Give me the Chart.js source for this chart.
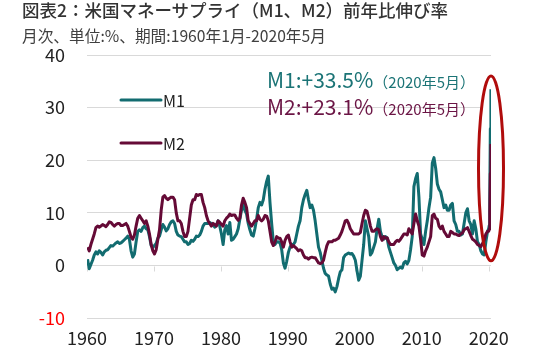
<!DOCTYPE html>
<html><head><meta charset="utf-8">
<script src="https://cdn.jsdelivr.net/npm/chart.js@4/dist/chart.umd.min.js"></script>
<style>
html,body{margin:0;padding:0;background:#fff;}
#wrap{position:relative;width:547px;height:351px;overflow:hidden;}
#c{position:absolute;left:0;top:0;}
.t{position:absolute;white-space:nowrap;font-family:"Noto Sans CJK JP","Noto Sans",sans-serif;}
#title{left:22px;top:-3px;font-size:17.5px;font-weight:500;color:#333;}
#sub{left:22px;top:24px;font-size:15.7px;color:#404040;}
</style></head><body>
<div id="wrap">
<canvas id="c" width="547" height="351"></canvas>
<div class="t" id="title">図表2：米国マネーサプライ（M1、M2）前年比伸び率</div>
<div class="t" id="sub">月次、単位:%、期間:1960年1月-2020年5月</div>
</div>
<script>
// Series labels
const seriesNames = ["M1", "M2"];
// Tick labels on the x axis (years)
const yearTicks = [1960, 1970, 1980, 1990, 2000, 2010, 2020];
// Quarterly observations 1960Q1..2019Q4, then monthly Jan..May 2020 (YoY %)
const m1Values = [
 1.2,-0.6,0.2,1.0,  2.0,2.6,2.2,2.8,  2.5,2.0,2.6,2.9,  3.0,3.4,3.8,3.7,  4.0,4.3,4.5,4.2,
 4.3,4.6,4.9,5.2,  5.6,5.0,2.8,1.6,  2.2,4.5,6.5,6.8,  6.5,7.2,7.5,7.0,  6.8,5.5,3.8,3.4,
 3.8,4.2,5.2,5.6,  6.8,7.8,7.3,6.6,  7.0,7.8,8.3,8.5,  8.0,6.5,5.8,5.6,  5.5,5.0,4.5,4.5,
 4.0,4.2,4.8,4.6,  5.0,5.6,5.5,5.8,  6.5,7.5,8.0,8.0,  8.0,8.2,8.0,7.8,  7.3,7.7,8.5,7.5,
 6.0,4.0,6.8,7.6,  6.0,8.2,4.8,5.0,  5.5,6.0,7.0,8.8,  10.5,11.5,10.5,9.8,  8.0,6.8,5.8,5.6,
 7.0,8.8,11.0,12.0,  11.5,12.5,14.5,16.0,  17.0,12.0,8.0,4.5,  4.0,4.5,4.5,4.3,  3.0,0.5,-0.5,0.8,
 2.5,3.5,4.0,4.0,  4.5,6.0,7.5,8.5,  11.0,12.5,13.5,14.3,  12.5,11.0,11.5,10.5,  8.5,6.0,3.5,2.5,
 1.0,-0.5,-1.5,-1.8,  -2.0,-3.5,-4.5,-4.3,  -5.0,-4.0,-2.5,-1.2,  -0.8,1.5,2.0,2.2,  2.4,2.2,2.3,1.8,
 1.0,-1.0,-2.8,-2.0,  1.0,4.0,8.5,7.0,  5.5,2.0,2.5,3.5,  4.5,7.0,8.8,6.5,  5.5,5.0,5.5,5.2,
 3.5,2.5,1.5,0.5,  0.0,-0.8,-0.5,-0.3,  -0.5,0.5,0.8,0.3,  1.0,3.0,5.5,15.0,  16.5,17.5,13.0,6.0,
 5.0,4.0,6.5,8.5,  11.0,13.0,19.5,20.5,  18.5,15.5,14.5,14.0,  12.5,11.0,11.5,10.5,  10.5,11.5,11.8,8.5,
 7.8,6.5,6.5,5.8,  6.0,8.0,10.0,10.8,  8.5,7.8,6.0,8.5,  7.0,4.5,4.0,2.8,  2.2,2.0,4.5,6.5,
 7.0,7.6,12.6,26.0,33.5
];
const m2Values = [
 3.5,2.8,4.0,5.0,  6.0,7.2,7.5,7.3,  7.5,7.8,7.6,7.4,  7.8,8.3,8.2,7.8,  7.5,7.8,8.0,8.0,
 7.6,7.6,7.8,8.0,  7.5,6.5,5.4,5.0,  5.8,7.5,9.0,9.5,  9.0,8.5,8.0,8.5,  7.5,6.0,4.0,2.8,
 2.2,3.0,5.0,6.8,  10.5,13.0,13.3,12.8,  12.5,12.8,13.0,13.0,  12.5,10.0,8.5,8.5,  8.0,6.5,5.5,5.5,
 6.5,9.0,11.5,12.5,  12.5,13.5,13.3,13.5,  13.5,12.0,11.0,9.5,  8.5,8.0,7.5,8.0,  7.8,7.5,8.5,8.2,
 7.8,7.5,8.5,9.0,  9.3,9.8,9.5,9.6,  9.6,9.0,8.6,9.0,  11.5,12.8,12.0,11.0,  8.5,8.0,7.5,8.0,
 8.5,8.5,9.5,8.8,  8.5,8.8,9.5,9.4,  8.5,6.5,4.5,3.8,  4.5,5.5,5.2,5.2,  4.5,3.5,4.8,5.5,
 5.8,4.5,3.5,3.8,  3.5,3.2,2.8,3.0,  2.8,2.0,1.5,1.5,  1.2,1.5,1.6,1.5,  1.5,1.0,0.5,0.4,
 0.5,1.0,2.5,3.8,  4.5,4.5,4.5,4.8,  4.8,5.0,5.2,5.8,  6.5,7.5,8.5,8.6,  8.0,7.0,6.5,6.0,
 6.0,6.0,6.0,6.3,  8.0,9.5,10.5,10.3,  9.0,7.5,6.5,6.5,  6.8,7.0,6.8,5.5,  4.8,5.5,5.2,5.3,
 4.5,4.0,4.0,4.0,  4.5,4.8,4.6,5.0,  5.5,6.0,6.0,5.8,  7.0,6.5,6.0,8.0,  9.8,8.5,7.5,5.0,
 2.0,1.8,2.8,3.5,  4.5,5.5,9.5,9.8,  9.0,8.8,7.5,7.0,  7.5,6.5,6.0,5.5,  5.5,6.5,6.3,6.0,
 6.0,5.8,5.7,6.0,  6.2,6.8,7.0,7.2,  6.5,5.7,5.0,4.8,  4.5,4.0,3.8,3.6,  4.2,4.8,6.0,6.5,
 6.5,6.9,10.2,17.5,23.1
];
// Latest values called out on the chart
const latestLabel = "（2020年5月）";
const m1Latest = 33.5;
const m2Latest = 23.1;

// dates: mid-quarter for 1960-2019, then monthly for 2020
const dates = [];
for (let y = 1960; y <= 2019; y++) for (let q = 0; q < 4; q++) dates.push(y + (3*q + 1)/12);
for (let m = 0; m < 5; m++) dates.push(2020 + m/12);

const TEAL = "#126c70", MAROON = "#650a36";
const FONT = '"Noto Sans CJK JP","Noto Sans",sans-serif';

const extras = {
  id: "extras",
  beforeDatasetsDraw(chart) {
    const {ctx, scales:{x, y}} = chart;
    ctx.save();
    ctx.strokeStyle = "#d9d9d9"; ctx.lineWidth = 1;
    const y0 = Math.round(y.getPixelForValue(0)) + 0.5;
    yearTicks.forEach(v => {
      const px = Math.round(x.getPixelForValue(v)) + 0.5;
      ctx.beginPath(); ctx.moveTo(px, y0); ctx.lineTo(px, y0 + 5); ctx.stroke();
    });
    const e = ellipseGeom(chart);
    ctx.fillStyle = "#fff";
    ctx.beginPath(); ctx.ellipse(e.cx, e.cy, e.rx, e.ry, 0, 0, Math.PI*2); ctx.fill();
    ctx.restore();
  },
  afterDatasetsDraw(chart) {
    const {ctx} = chart;
    const e = ellipseGeom(chart);
    ctx.save();
    ctx.strokeStyle = "#b00c0c"; ctx.lineWidth = 3;
    ctx.beginPath(); ctx.ellipse(e.cx, e.cy, e.rx, e.ry, 0, 0, Math.PI*2); ctx.stroke();
    const items = [[seriesNames[0], TEAL, 100], [seriesNames[1], MAROON, 143]];
    ctx.textBaseline = "middle";
    ctx.font = "16px " + FONT;
    items.forEach(([name, col, py]) => {
      ctx.strokeStyle = col; ctx.lineWidth = 3; ctx.lineCap = "round";
      ctx.beginPath(); ctx.moveTo(121, py); ctx.lineTo(161, py); ctx.stroke();
      ctx.fillStyle = "#222"; ctx.textAlign = "left";
      ctx.fillText(name, 163, py + 1);
    });
    ctx.textBaseline = "alphabetic";
    const call = [[seriesNames[0] + ":+" + m1Latest.toFixed(1) + "%", "#1b7476", 88],
                  [seriesNames[1] + ":+" + m2Latest.toFixed(1) + "%", "#6b1545", 115]];
    call.forEach(([txt, col, by]) => {
      ctx.fillStyle = col;
      ctx.font = "21px " + FONT;
      ctx.fillText(txt, 267, by);
      const w = ctx.measureText(txt).width;
      ctx.font = "15px " + FONT;
      ctx.fillText(latestLabel, 267 + w, by);
    });
    ctx.restore();
  }
};
function ellipseGeom(chart) {
  const {x, y} = chart.scales;
  const top = y.getPixelForValue(36.0), bot = y.getPixelForValue(0.9);
  return {cx: x.getPixelForValue(2020.35), cy: (top + bot)/2, rx: 12.5, ry: (bot - top)/2};
}

new Chart(document.getElementById("c"), {
  type: "line",
  data: {
    datasets: [
      {label: seriesNames[0], data: m1Values.map((v,i)=>({x:dates[i], y:v})), borderColor: TEAL, order: 1},
      {label: seriesNames[1], data: m2Values.map((v,i)=>({x:dates[i], y:v})), borderColor: MAROON, order: 0}
    ]
  },
  options: {
    responsive: false, animation: false,
    layout: {padding: {left: 0, right: 56, top: 55, bottom: 0}},
    elements: {point: {radius: 0}, line: {borderWidth: 3, tension: 0, borderJoinStyle: "round", fill: false}},
    plugins: {legend: {display: false}, tooltip: {enabled: false}, title: {display: false}},
    scales: {
      x: {
        type: "linear", min: 1960, max: 2020.35,
        afterBuildTicks: s => { s.ticks = yearTicks.map(v => ({value: v})); },
        afterFit: s => { s.height = 30; },
        grid: {display: false, drawTicks: false}, border: {display: false},
        ticks: {padding: 9, color: "#222", font: {family: FONT, size: 18}, callback: v => String(v), maxRotation: 0, autoSkip: false}
      },
      y: {
        min: -10, max: 40,
        afterFit: s => { s.width = 87; },
        grid: {color: "#d9d9d9", drawTicks: false, lineWidth: 1}, border: {display: false},
        ticks: {stepSize: 10, padding: 22, font: {family: FONT, size: 18},
          color: c => (c.tick && c.tick.value < 0) ? "#ff0000" : "#222"}
      }
    }
  },
  plugins: [extras]
});
</script>
</body></html>
